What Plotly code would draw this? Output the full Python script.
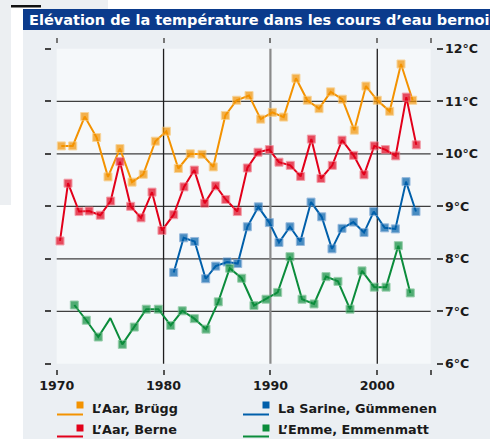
import plotly.graph_objects as go

# ---------------- data ----------------
TITLE = "Elévation de la température dans les cours d’eau bernois"

SERIES_NAMES = ["L’Aar, Brügg", "L’Aar, Berne", "La Sarine, Gümmenen", "L’Emme, Emmenmatt"]
SERIES_COLORS = ["#f39200", "#e2001a", "#005faa", "#0b8c3b"]
MARKER_EDGE = ["#f8c673", "#f07a88", "#6f9fd0", "#73bd8c"]

brugg_x = [1970.43, 1971.50, 1972.62, 1973.74, 1974.80, 1975.92, 1977.05, 1978.10,
           1979.23, 1980.26, 1981.38, 1982.50, 1983.60, 1984.65, 1985.78, 1986.84,
           1988.00, 1989.09, 1990.18, 1991.24, 1992.39, 1993.45, 1994.55, 1995.64,
           1996.73, 1997.85, 1998.94, 2000.00, 2001.16, 2002.22, 2003.31]
brugg_y = [10.15, 10.15, 10.71, 10.31, 9.56, 10.10, 9.46, 9.61,
           10.24, 10.43, 9.72, 10.00, 9.99, 9.75, 10.73, 11.02,
           11.11, 10.66, 10.79, 10.70, 11.44, 11.02, 10.86, 11.18,
           11.04, 10.45, 11.29, 11.02, 10.81, 11.71, 11.02]

berne_x = [1970.31, 1971.06, 1972.09, 1973.03, 1974.08, 1975.05, 1975.92, 1976.92,
           1977.89, 1978.92, 1979.85, 1980.95, 1981.91, 1982.88, 1983.85, 1984.88,
           1985.82, 1986.90, 1987.84, 1988.84, 1989.90, 1990.80, 1991.86, 1992.83,
           1993.83, 1994.73, 1995.79, 1996.70, 1997.79, 1998.76, 1999.72, 2000.75,
           2001.72, 2002.72, 2003.65]
berne_y = [8.34, 9.44, 8.90, 8.91, 8.83, 9.10, 9.85, 9.00,
           8.78, 9.27, 8.54, 8.84, 9.37, 9.69, 9.06, 9.39,
           9.13, 8.90, 9.73, 10.03, 10.08, 9.84, 9.78, 9.57,
           10.28, 9.53, 9.78, 10.26, 9.97, 9.60, 10.15, 10.08,
           9.96, 11.08, 10.17]

sarine_x = [1980.95, 1981.88, 1982.91, 1983.94, 1984.88, 1985.94, 1986.94, 1987.84,
            1988.87, 1989.90, 1990.80, 1991.83, 1992.80, 1993.80, 1994.80, 1995.76,
            1996.70, 1997.76, 1998.76, 1999.67, 2000.69, 2001.69, 2002.69, 2003.62]
sarine_y = [7.74, 8.40, 8.33, 7.62, 7.86, 7.94, 7.91, 8.61,
            8.99, 8.69, 8.31, 8.61, 8.33, 9.08, 8.80, 8.19,
            8.58, 8.70, 8.50, 8.90, 8.59, 8.57, 9.47, 8.90]

emme_x = [1971.65, 1972.77, 1973.89, 1975.02, 1976.14, 1977.26, 1978.38, 1979.51,
          1980.67, 1981.75, 1982.88, 1983.97, 1985.12, 1986.19, 1987.31, 1988.46,
          1989.59, 1990.68, 1991.83, 1992.96, 1994.08, 1995.20, 1996.32, 1997.45,
          1998.57, 1999.72, 2000.82, 2001.97, 2003.09]
emme_y = [7.12, 6.83, 6.51, 6.87, 6.37, 6.70, 7.04, 7.04,
          6.73, 7.01, 6.86, 6.66, 7.18, 7.82, 7.63, 7.11,
          7.23, 7.36, 8.04, 7.23, 7.14, 7.66, 7.57, 7.04,
          7.77, 7.46, 7.46, 8.25, 7.35]
emme_unmarked = [3]  # vertex drawn without a marker

X_TICKS = [1970, 1980, 1990, 2000, 2005]
X_TICK_TEXT = ["1970", "1980", "1990", "2000", ""]
Y_TICKS = [6, 7, 8, 9, 10, 11, 12]
Y_TICK_TEXT = ["6°C", "7°C", "8°C", "9°C", "10°C", "11°C", "12°C"]
H_GRID = [7, 8, 9, 10, 11]
V_GRID = [1980, 1990, 2000]
V_GRID_COLORS = ["#1e1e1e", "#8a8a8a", "#1e1e1e"]
V_GRID_WIDTHS = [1.3, 2.2, 1.3]

# ---------------- layout geometry ----------------
W, H = 490, 439
L, R, T, B = 52, 54, 44, 70
PW, PH = W - L - R, H - T - B
X_RANGE = [1969.56, 2005.495]
Y_RANGE = [5.901, 12.0914]


def px(x):
    return (x - L) / PW


def py(y):
    return (H - B - y) / PH


FONT = "DejaVu Sans"
TXT = "#1a1a1a"

fig = go.Figure()

series = [(brugg_x, brugg_y), (berne_x, berne_y), (sarine_x, sarine_y), (emme_x, emme_y)]
for i, (xs, ys) in enumerate(series):
    sizes = [8] * len(xs)
    if i == 3:
        for k in emme_unmarked:
            sizes[k] = 0
    fig.add_trace(go.Scatter(
        x=xs, y=ys, mode="lines+markers", name=SERIES_NAMES[i],
        line=dict(color=SERIES_COLORS[i], width=2),
        marker=dict(symbol="square", size=sizes, color=SERIES_COLORS[i],
                    line=dict(color=MARKER_EDGE[i], width=1)),
        hoverinfo="skip", showlegend=False, cliponaxis=False,
    ))

# dummy trace to ensure the secondary (tick-only) axes are drawn
fig.add_trace(go.Scatter(x=[None], y=[None], xaxis="x2", yaxis="y2",
                         showlegend=False, hoverinfo="skip"))

shapes = []
# decorative page panels
shapes.append(dict(type="rect", xref="paper", yref="paper", x0=px(23), x1=px(500),
                   y0=py(30), y1=py(450), fillcolor="#ebeff3", line_width=0, layer="below"))
shapes.append(dict(type="rect", xref="paper", yref="paper", x0=px(23), x1=px(500),
                   y0=py(9), y1=py(30), fillcolor="#0b3b8c", line_width=0, layer="below"))
shapes.append(dict(type="rect", xref="paper", yref="paper", x0=px(-5), x1=px(108),
                   y0=py(-5), y1=py(5), fillcolor="#eceff2", line_width=0, layer="below"))
shapes.append(dict(type="rect", xref="paper", yref="paper", x0=px(41), x1=px(108),
                   y0=py(5), y1=py(9), fillcolor="#eceff2", line_width=0, layer="below"))
shapes.append(dict(type="rect", xref="paper", yref="paper", x0=px(-5), x1=px(11),
                   y0=py(-5), y1=py(205), fillcolor="#eceff2", line_width=0, layer="below"))
shapes.append(dict(type="rect", xref="paper", yref="paper", x0=px(11), x1=px(41),
                   y0=py(5), y1=py(7.5), fillcolor="#111111", line_width=0, layer="below"))

# inner plotting background
shapes.append(dict(type="rect", xref="x", yref="y", x0=X_TICKS[0], x1=X_TICKS[-1],
                   y0=Y_TICKS[0], y1=Y_TICKS[-1], fillcolor="#f5f8fa", line_width=0, layer="below"))
# grid lines
for g in H_GRID:
    shapes.append(dict(type="line", xref="x", yref="y", x0=X_TICKS[0], x1=X_TICKS[-1],
                       y0=g, y1=g, line=dict(color="#3f3f3f", width=1.3), layer="below"))
for g, c, w in zip(V_GRID, V_GRID_COLORS, V_GRID_WIDTHS):
    shapes.append(dict(type="line", xref="x", yref="y", x0=g, x1=g,
                       y0=Y_TICKS[0], y1=Y_TICKS[-1], line=dict(color=c, width=w), layer="below"))

# legend (custom drawn)
annotations = []
legend_pos = [(57, 405, 414.5), (57, 428, 436.5), (243, 405, 414.5), (243, 428, 436.5)]
text_y = [408, 430, 408, 430]
for i, (lx, my, ly) in enumerate(legend_pos):
    shapes.append(dict(type="line", xref="paper", yref="paper", x0=px(lx), x1=px(lx + 26),
                       y0=py(ly), y1=py(ly), line=dict(color=SERIES_COLORS[i], width=2)))
    shapes.append(dict(type="rect", xref="paper", yref="paper", x0=px(lx + 19.5), x1=px(lx + 26.5),
                       y0=py(my - 3.5), y1=py(my + 3.5), fillcolor=SERIES_COLORS[i], line_width=0))
    annotations.append(dict(xref="paper", yref="paper", x=px(lx + 33), y=py(text_y[i]),
                            xanchor="left", yanchor="middle", showarrow=False,
                            text=SERIES_NAMES[i],
                            font=dict(family=FONT, size=12.8, color=TXT, weight="bold")))

annotations.append(dict(xref="paper", yref="paper", x=px(27), y=py(19.5),
                        xanchor="left", yanchor="middle", showarrow=False, text=TITLE,
                        font=dict(family=FONT, size=14.5, color="white", weight="bold")))

tickfont = dict(family=FONT, size=12.6, color=TXT, weight="bold")

fig.update_layout(
    width=W, height=H,
    margin=dict(l=L, r=R, t=T, b=B, pad=0),
    paper_bgcolor="white",
    plot_bgcolor="rgba(0,0,0,0)",
    showlegend=False,
    shapes=shapes,
    annotations=annotations,
    xaxis=dict(range=X_RANGE, tickvals=X_TICKS, ticktext=X_TICK_TEXT, ticks="outside",
               ticklen=5, tickwidth=1.5, tickcolor="#555555", showgrid=False,
               zeroline=False, showline=False, tickfont=tickfont, fixedrange=True),
    xaxis2=dict(range=X_RANGE, overlaying="x", side="top", anchor="y", tickvals=X_TICKS,
                ticks="outside", ticklen=5, tickwidth=1.5, tickcolor="#777777",
                showticklabels=False, showgrid=False, zeroline=False, showline=False,
                fixedrange=True),
    yaxis=dict(range=Y_RANGE, side="right", tickvals=Y_TICKS, ticktext=Y_TICK_TEXT,
               ticks="outside", ticklen=5.5, tickwidth=1.5, tickcolor="#444444",
               showgrid=False, zeroline=False, showline=False, tickfont=tickfont,
               fixedrange=True),
    yaxis2=dict(range=Y_RANGE, overlaying="y", side="left", anchor="x", tickvals=Y_TICKS,
                ticks="outside", ticklen=6, tickwidth=1.5, tickcolor="#444444",
                showticklabels=False, showgrid=False, zeroline=False, showline=False,
                fixedrange=True),
)

fig.write_html("out.html", config={"displayModeBar": False},
               post_script="document.body.style.margin='0';document.body.style.overflow='hidden';")
